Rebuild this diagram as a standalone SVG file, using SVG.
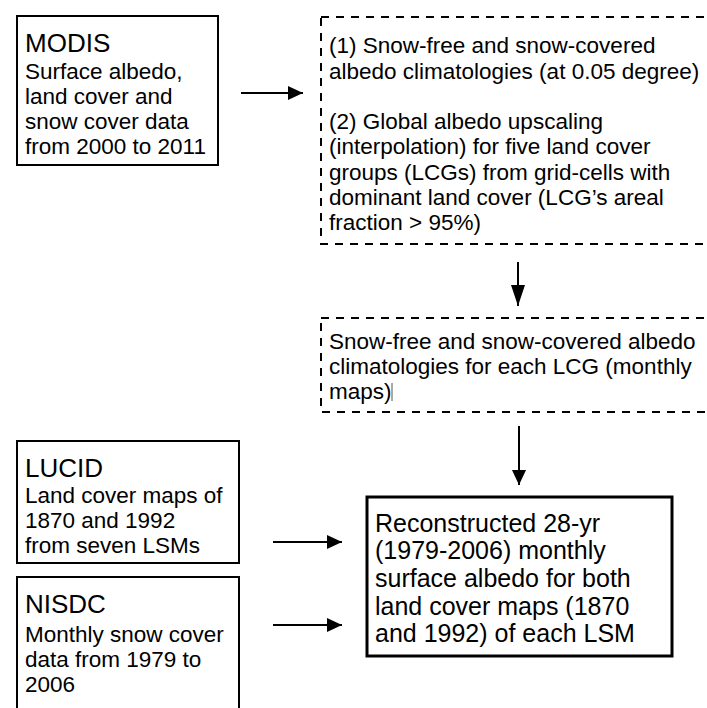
<svg xmlns="http://www.w3.org/2000/svg" width="707" height="708" viewBox="0 0 707 708">
<defs>
<marker id="ah" markerWidth="15" markerHeight="14" refX="15" refY="7" orient="auto" markerUnits="userSpaceOnUse">
<path d="M0,0 L15,7 L0,14 Z" fill="#000"/>
</marker>
<marker id="ahl" markerWidth="21" markerHeight="14" refX="21" refY="7" orient="auto" markerUnits="userSpaceOnUse">
<path d="M0,0 L21,7 L0,14 Z" fill="#000"/>
</marker>
<style>
.box{fill:#fff;stroke:#000;stroke-width:2}
.dash{fill:#fff;stroke:#000;stroke-width:2;stroke-dasharray:8 7}
.thick{fill:#fff;stroke:#000;stroke-width:3}
.t{font-family:"Liberation Sans",Arial,sans-serif;fill:#000;font-size:22.5px}
.h{font-size:26px}
.big{font-size:25px}
.conn{stroke:#000;stroke-width:2;fill:none;marker-end:url(#ah)}
.connl{stroke:#000;stroke-width:2;fill:none;marker-end:url(#ahl)}
</style>
</defs>
<rect width="707" height="708" fill="#fff"/>
<g id="modis">
<rect class="box" x="17" y="16" width="201" height="149"/>
<text class="t h" x="25" y="52">MODIS</text>
<text class="t" x="25" y="79">Surface albedo,</text>
<text class="t" x="25" y="104">land cover and</text>
<text class="t" x="25" y="129">snow cover data</text>
<text class="t" x="25" y="154">from 2000 to 2011</text>
</g>
<g id="step1">
<rect class="dash" x="321" y="17" width="400" height="227"/>
<text class="t" x="329" y="53">(1) Snow-free and snow-covered</text>
<text class="t" x="329" y="79">albedo climatologies (at 0.05 degree)</text>
<text class="t" x="329" y="129">(2) Global albedo upscaling</text>
<text class="t" x="329" y="154">(interpolation) for five land cover</text>
<text class="t" x="329" y="180">groups (LCGs) from grid-cells with</text>
<text class="t" x="329" y="205">dominant land cover (LCG’s areal</text>
<text class="t" x="329" y="230">fraction &gt; 95%)</text>
</g>
<g id="step2">
<rect class="dash" x="321" y="318" width="400" height="94"/>
<text class="t" x="329" y="349">Snow-free and snow-covered albedo</text>
<text class="t" x="329" y="374">climatologies for each LCG (monthly</text>
<text class="t" x="329" y="399">maps)</text>
<line x1="392" y1="383" x2="392" y2="401" stroke="#555" stroke-width="1"/>
</g>
<g id="lucid">
<rect class="box" x="17" y="441" width="222" height="122"/>
<text class="t h" x="25" y="477">LUCID</text>
<text class="t" x="25" y="503">Land cover maps of</text>
<text class="t" x="25" y="528">1870 and 1992</text>
<text class="t" x="25" y="553">from seven LSMs</text>
</g>
<g id="nisdc">
<rect class="box" x="17" y="577" width="222" height="140"/>
<text class="t h" x="25" y="613">NISDC</text>
<text class="t" x="25" y="642">Monthly snow cover</text>
<text class="t" x="25" y="667">data from 1979 to</text>
<text class="t" x="25" y="692">2006</text>
</g>
<g id="result">
<rect class="thick" x="367" y="497" width="305" height="159"/>
<text class="t big" x="375" y="532">Reconstructed 28-yr</text>
<text class="t big" x="375" y="559">(1979-2006) monthly</text>
<text class="t big" x="375" y="587">surface albedo for both</text>
<text class="t big" x="375" y="615">land cover maps (1870</text>
<text class="t big" x="375" y="642">and 1992) of each LSM</text>
</g>
<g id="connectors">
<line class="conn" x1="241" y1="93" x2="303" y2="93"/>
<line class="connl" x1="518" y1="262" x2="518" y2="306"/>
<line class="conn" x1="519" y1="426" x2="519" y2="485"/>
<line class="conn" x1="273" y1="542" x2="342" y2="542"/>
<line class="conn" x1="273" y1="625" x2="342" y2="625"/>
</g>
</svg>
